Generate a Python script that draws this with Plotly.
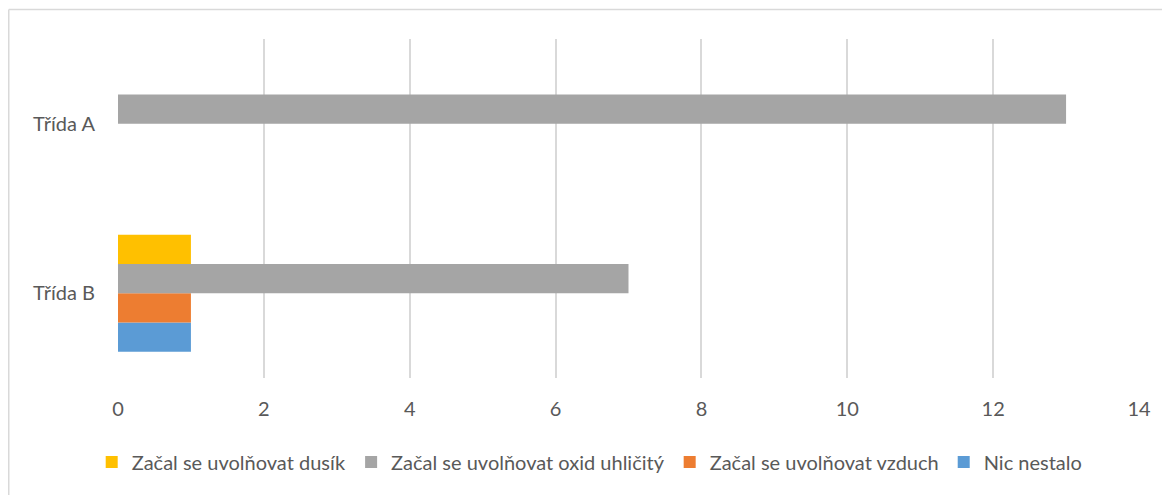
import plotly.graph_objects as go

# ---- data -------------------------------------------------------------------
classes = ["Třída B", "Třída A"]
nic_nestalo = [1, 0]
vzduch = [1, 0]
oxid = [7, 13]
dusik = [1, 0]

x_ticks = [0, 2, 4, 6, 8, 10, 12, 14]

# ---- style ------------------------------------------------------------------
BLUE = "#5B9BD5"
ORANGE = "#ED7D31"
GRAY = "#A5A5A5"
YELLOW = "#FFC000"
INK = "#595959"
GRID = "#D9D9D9"
FONT = "Lato, Carlito, Calibri, sans-serif"
FS = 20

series = [
    ("Nic nestalo", nic_nestalo, BLUE),
    ("Začal se uvolňovat vzduch", vzduch, ORANGE),
    ("Začal se uvolňovat oxid uhličitý", oxid, GRAY),
    ("Začal se uvolňovat dusík", dusik, YELLOW),
]

fig = go.Figure()
for name, vals, color in series:
    fig.add_trace(go.Bar(y=classes, x=vals, name=name, orientation="h",
                         marker={"color": color, "line": {"width": 0}}))

# page body has an 8px margin, so the figure is 8px smaller than the window
fig.update_layout(
    width=1162, height=487,
    barmode="group", bargap=0.31, bargroupgap=0,
    paper_bgcolor="white", plot_bgcolor="white",
    margin=dict(l=110, r=31, t=31, b=117),
    font={"family": FONT, "color": INK, "size": FS},
    legend=dict(orientation="h", traceorder="reversed", x=0.462, xanchor="center",
                y=-0.248, yanchor="middle", font={"size": FS, "color": INK},
                itemwidth=30, tracegroupgap=0),
    showlegend=True,
)
fig.update_xaxes(range=[0, 14], tickvals=x_ticks, showgrid=True, gridcolor=GRID,
                 gridwidth=1.5, zeroline=False, showline=False, ticks="",
                 ticklabelstandoff=17, tickfont={"size": FS, "color": INK})
fig.update_yaxes(showgrid=False, zeroline=False, showline=False, ticks="",
                 ticklabelstandoff=22, tickfont={"size": FS, "color": INK})

# chart-area frame (top and left edges are the ones visible)
fig.add_shape(type="line", xref="paper", yref="paper",
              x0=-0.107, x1=1.05, y0=1.087, y1=1.087,
              line={"color": GRID, "width": 1.5})
fig.add_shape(type="line", xref="paper", yref="paper",
              x0=-0.107, x1=-0.107, y0=1.087, y1=-0.4,
              line={"color": GRID, "width": 1.5})

fig.write_html("out.html")
